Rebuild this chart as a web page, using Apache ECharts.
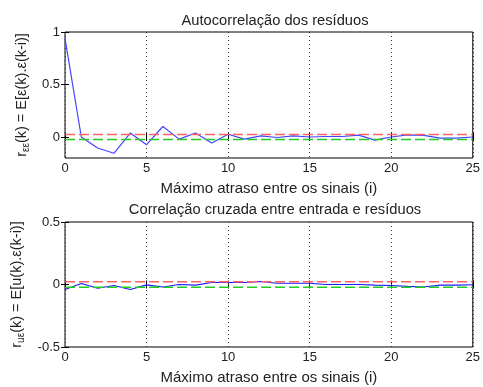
<!DOCTYPE html>
<html>
<head>
<meta charset="utf-8">
<script src="https://cdn.jsdelivr.net/npm/echarts@6/dist/echarts.min.js"></script>
<style>html,body{margin:0;padding:0;background:#fff}#c{width:483px;height:387px}</style>
</head>
<body>
<div id="c"></div>
<script>
var lags = [0,1,2,3,4,5,6,7,8,9,10,11,12,13,14,15,16,17,18,19,20,21,22,23,24,25];
var acf = [0.94,0.0,-0.105,-0.155,0.038,-0.073,0.1,-0.02,0.038,-0.057,0.026,-0.02,0.01,-0.005,0.01,0.0,0.005,0.005,0.018,-0.03,0.0,0.02,0.015,-0.01,-0.01,0.0];
var ccf = [-0.04,0.008,-0.03,-0.008,-0.04,-0.003,-0.02,0.0,-0.005,0.016,0.016,0.016,0.024,0.01,0.01,0.01,0.0,0.0,0.0,-0.005,-0.008,-0.015,-0.02,-0.005,-0.005,-0.002];
var confTop = 0.024;
var confBottom = 0.022;
var xTicks = [0,5,10,15,20,25];
var yTicksTop = [0,0.5,1];
var yTicksBottom = [-0.5,0,0.5];
var titleTop = 'Autocorrelação dos resíduos';
var titleBottom = 'Correlação cruzada entre entrada e resíduos';
var xName = 'Máximo atraso entre os sinais (i)';

var FONT = 'Liberation Sans, Arial, sans-serif';
var TXT = '#222';
var chart = echarts.init(document.getElementById('c'), null, {renderer:'canvas'});

function pairs(xs, ys){ return xs.map(function(x,i){return [x, ys[i]];}); }
function hline(xs, v){ return [[xs[0], v],[xs[xs.length-1], v]]; }

var grids = [
  {left:65, right:7, top:32, height:126, show:true, borderColor:'#000', borderWidth:1, backgroundColor:'#fff'},
  {left:65, right:7, top:222, height:125, show:true, borderColor:'#000', borderWidth:1, backgroundColor:'#fff'}
];

function mkX(gi){
  return {
    type:'value', gridIndex:gi, min:lags[0], max:lags[lags.length-1], interval:5,
    name:xName, nameLocation:'middle', nameGap:23,
    nameTextStyle:{fontFamily:FONT, fontSize:15, color:TXT},
    axisLine:{show:false},
    axisTick:{show:true, inside:true, length:4, lineStyle:{color:'#000'}, customValues:xTicks},
    axisLabel:{fontFamily:FONT, fontSize:13, color:TXT, margin:4, customValues:xTicks},
    splitLine:{show:true, lineStyle:{color:'#333', type:[1,3], width:1}}
  };
}
function mkXTop(gi){
  return {
    type:'value', gridIndex:gi, position:'top', min:lags[0], max:lags[lags.length-1], interval:5,
    axisLine:{show:false}, axisLabel:{show:false}, splitLine:{show:false},
    axisTick:{show:true, inside:true, length:4, lineStyle:{color:'#000'}}
  };
}
function mkY(gi, min, max, ticks, rich, nameStr){
  return {
    type:'value', gridIndex:gi, min:min, max:max,
    name:nameStr, nameLocation:'middle', nameGap:31, nameRotate:90,
    nameTextStyle:{fontFamily:FONT, fontSize:14, color:TXT, rich:rich},
    axisLine:{show:false},
    axisTick:{show:true, inside:true, length:4, lineStyle:{color:'#000'}, customValues:ticks},
    axisLabel:{fontFamily:FONT, fontSize:13, color:TXT, margin:5, customValues:ticks,
      formatter:function(v){return String(v);} },
    splitLine:{show:false}
  };
}
function mkYRight(gi, min, max, ticks){
  return {
    type:'value', gridIndex:gi, position:'right', min:min, max:max,
    axisLine:{show:false}, axisLabel:{show:false}, splitLine:{show:false},
    axisTick:{show:true, inside:true, length:4, lineStyle:{color:'#000'}, customValues:ticks}
  };
}

var rich = {
  m:{fontFamily:FONT, fontSize:14.5, color:TXT, lineHeight:19},
  s:{fontFamily:FONT, fontSize:10, color:TXT, lineHeight:10, verticalAlign:'bottom'}
};

var option = {
  animation:false,
  backgroundColor:'#fff',
  title:[
    {text:titleTop, left:270, top:8, textAlign:'center', textStyle:{fontFamily:FONT, fontSize:14.7, fontWeight:'normal', color:TXT}},
    {text:titleBottom, left:270, top:197, textAlign:'center', textStyle:{fontFamily:FONT, fontSize:14.7, fontWeight:'normal', color:TXT}}
  ],
  grid:grids,
  xAxis:[mkX(0), mkX(1), mkXTop(0), mkXTop(1)],
  yAxis:[
    mkY(0, -0.2, 1, yTicksTop, rich, '{m|r}{s|εε}{m|(k) = E[ε(k).ε(k-i)]}'),
    mkY(1, -0.5, 0.5, yTicksBottom, rich, '{m|r}{s|uε}{m|(k) = E[u(k).ε(k-i)]}'),
    mkYRight(0, -0.2, 1, yTicksTop),
    mkYRight(1, -0.5, 0.5, yTicksBottom)
  ],
  series:[
    {type:'line', xAxisIndex:0, yAxisIndex:0, data:pairs(lags, acf), showSymbol:false, lineStyle:{color:'#4444ff', width:1.2}},
    {type:'line', xAxisIndex:0, yAxisIndex:0, data:hline(lags, confTop), showSymbol:false, lineStyle:{color:'#ff6060', width:1.6, type:[10,4]}},
    {type:'line', xAxisIndex:0, yAxisIndex:0, data:hline(lags, -confTop), showSymbol:false, lineStyle:{color:'#22cc22', width:1.5, type:[10,4]}},
    {type:'line', xAxisIndex:1, yAxisIndex:1, data:pairs(lags, ccf), showSymbol:false, lineStyle:{color:'#1a1aff', width:1.2}},
    {type:'line', xAxisIndex:1, yAxisIndex:1, data:hline(lags, confBottom), showSymbol:false, lineStyle:{color:'#ff6060', width:1.6, type:[10,4]}},
    {type:'line', xAxisIndex:1, yAxisIndex:1, data:hline(lags, -confBottom), showSymbol:false, lineStyle:{color:'#22cc22', width:1.5, type:[10,4]}}
  ]
};
chart.setOption(option);
</script>
</body>
</html>
